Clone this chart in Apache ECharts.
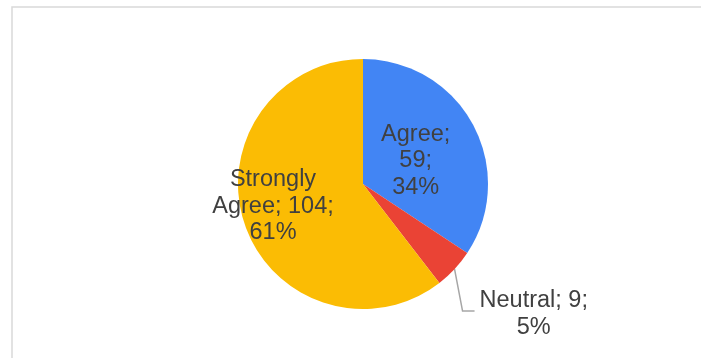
<!DOCTYPE html>
<html>
<head>
<meta charset="utf-8">
<script src="https://cdn.jsdelivr.net/npm/echarts@6/dist/echarts.min.js"></script>
<style>
  html, body { margin: 0; padding: 0; background: #ffffff; }
  #chart { width: 701px; height: 358px; }
</style>
</head>
<body>
<div id="chart"></div>
<script>
const categories = ['Agree', 'Neutral', 'Strongly Agree'];
const values = [59, 9, 104];
const colors = ['#4285F4', '#EA4335', '#FBBC04'];

const chart = echarts.init(document.getElementById('chart'), null, { renderer: 'canvas' });

const data = categories.map((name, i) => ({
  name: name,
  value: values[i],
  itemStyle: { color: colors[i] },
  label: { position: i === 1 ? 'outside' : 'inside' },
  labelLine: { show: i === 1 }
}));

function fmt(p) {
  if (p.dataIndex === 0) return p.name + ';\n' + p.value + ';\n' + p.percent + '%';
  if (p.dataIndex === 1) return p.name + '; ' + p.value + ';\n' + p.percent + '%';
  const parts = p.name.split(' ');
  return parts[0] + '\n' + parts.slice(1).join(' ') + '; ' + p.value + ';\n' + p.percent + '%';
}

chart.setOption({
  animation: false,
  backgroundColor: '#ffffff',
  graphic: [{
    type: 'rect',
    shape: { x: 12, y: 7, width: 720, height: 400 },
    style: { fill: 'none', stroke: '#d9d9d9', lineWidth: 1.5 },
    silent: true
  }],
  series: [{
    type: 'pie',
    center: [363, 184],
    radius: [0, 125],
    startAngle: 90,
    clockwise: true,
    percentPrecision: 0,
    avoidLabelOverlap: false,
    itemStyle: { borderWidth: 0 },
    label: {
      show: true,
      formatter: fmt,
      fontFamily: 'Liberation Sans, Arial, sans-serif',
      fontSize: 23.5,
      lineHeight: 26.5,
      color: '#404040',
      align: 'center'
    },
    labelLine: {
      lineStyle: { color: '#a6a6a6', width: 1.5 }
    },
    labelLayout: function (params) {
      if (params.dataIndex === 0) return { dx: -5, dy: 8 };
      if (params.dataIndex === 2) return { dx: -28, dy: 1 };
      const p0 = params.labelLinePoints[0];
      const y = p0[1] + 42;
      return {
        x: p0[0] + 25 + params.labelRect.width / 2,
        y: y + 3,
        align: 'center',
        verticalAlign: 'middle',
        labelLinePoints: [p0, [p0[0] + 8, y], [p0[0] + 20, y]]
      };
    },
    data: data
  }]
});
</script>
</body>
</html>
